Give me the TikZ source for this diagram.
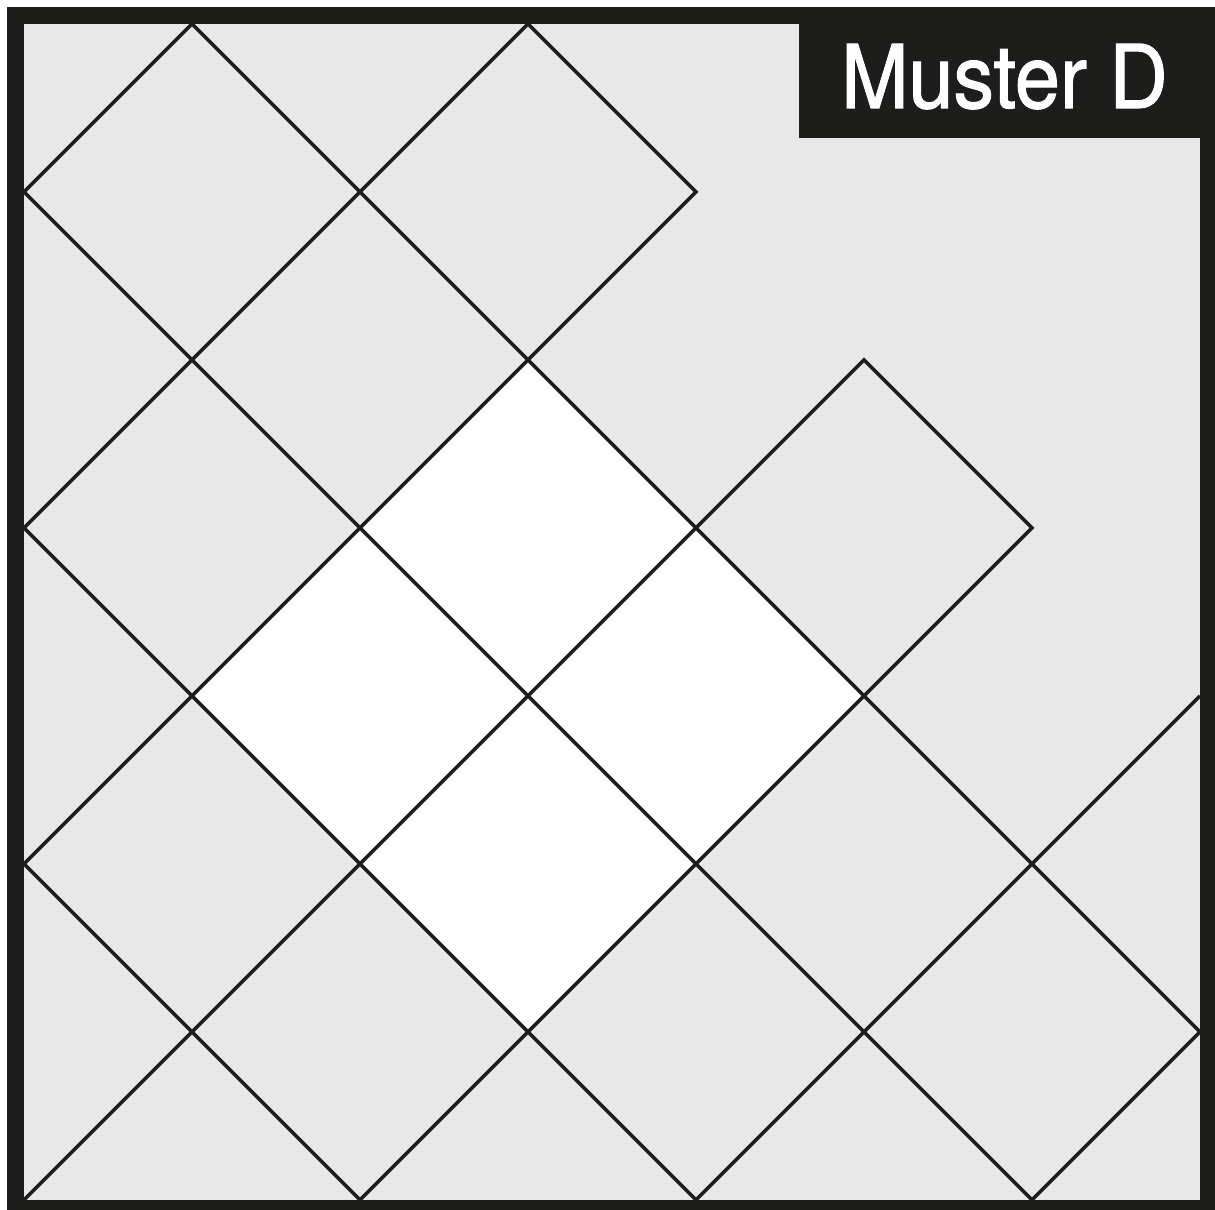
\documentclass[tikz,border=0pt]{standalone}
\usepackage{fontspec}
\newfontfamily\musterfont[FakeStretch=0.92, FakeBold=1.3]{TeX Gyre Heros}
\usetikzlibrary{calc}
\definecolor{tilegrey}{HTML}{E8E8E8}
\definecolor{framedark}{HTML}{1D1D1B}

\begin{document}
\begin{tikzpicture}[tileline/.style={framedark, line width=0.6pt}]
\def\Wfield{7}
\def\frameoff{0.0506}
\def\boxleft{4.613}
\def\boxbot{6.321}
\useasboundingbox (-0.1429,-0.0595) rectangle (7.0893,7.1429);

\coordinate (SW) at (0,0);
\coordinate (NE) at (\Wfield,\Wfield);
\coordinate (Mid) at (3,3);

\fill[tilegrey] (SW) rectangle (NE);

% white block in the middle
\fill[white] ($(Mid)+(0,2)$) -- ($(Mid)+(2,0)$) -- ($(Mid)+(0,-2)$) -- ($(Mid)+(-2,0)$) -- cycle;

% tile joints
\draw[tileline] (0,6) -- (1,7) -- (7,1);
\draw[tileline] (0,4) -- (3,7) -- (4,6) -- (0,2);
\draw[tileline] (0,6) -- (6,0);
\draw[tileline] (0,4) -- (4,0);
\draw[tileline] (0,2) -- (2,0);
\draw[tileline] (2,0) -- (6,4) -- (5,5) -- (0,0);
\draw[tileline] (4,0) -- (7,3);
\draw[tileline] (6,0) -- (7,1);

% label
\fill[framedark] (\boxleft,\boxbot) rectangle (NE);
\node[anchor=base, text=white, inner sep=0pt, font=\musterfont\fontsize{14.9}{18}\selectfont]
  (label) at (5.836,6.5) {Muster D};

\draw[framedark, line width=2.88pt]
  ($(SW)+(-\frameoff,-\frameoff)$) rectangle ($(NE)+(\frameoff,\frameoff)$);
\end{tikzpicture}
\end{document}
